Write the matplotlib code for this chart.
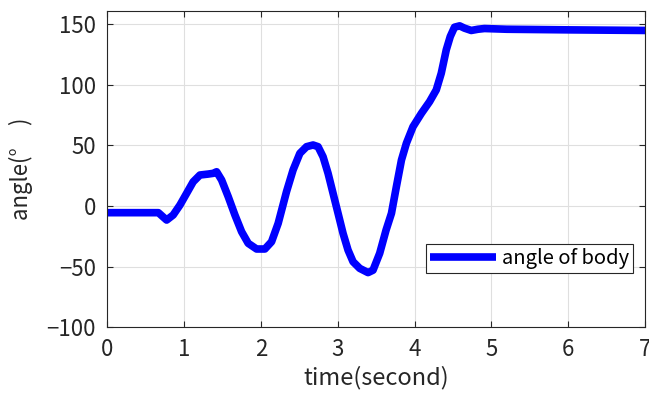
import numpy as np
import matplotlib
matplotlib.use("Agg")
import matplotlib.pyplot as plt

plt.rcParams['font.family'] = ['Noto Sans CJK JP', 'DejaVu Sans']

# time (s) and body angle (deg)
t = [0.0, 0.3, 0.56, 0.667, 0.72, 0.775, 0.86, 0.948, 1.035, 1.12, 1.208, 1.316, 1.38, 1.425,
     1.49, 1.576, 1.663, 1.75, 1.836, 1.945, 2.053, 2.14, 2.226, 2.335, 2.42, 2.508, 2.595,
     2.68, 2.745, 2.81, 2.875, 2.94, 3.005, 3.07, 3.135, 3.20, 3.287, 3.395, 3.46, 3.547,
     3.63, 3.70, 3.764, 3.83, 3.894, 3.98, 4.09, 4.196, 4.283, 4.348, 4.413, 4.465, 4.52,
     4.587, 4.65, 4.738, 4.825, 4.91, 5.2, 6.0, 7.0]
angle = [-5.5, -5.5, -5.5, -5.5, -8.5, -11.6, -7.4, 0.8, 10.5, 20.0, 25.6, 26.4, 27.0, 28.3,
         21.5, 7.7, -7.4, -21.2, -30.8, -35.5, -35.5, -29.5, -14.3, 12.0, 29.8, 43.5, 49.0,
         50.4, 49.0, 40.7, 27.0, 10.5, -6.0, -22.6, -36.4, -46.0, -51.5, -55.0, -53.0, -39.0,
         -19.8, -6.0, 16.0, 38.0, 51.8, 65.5, 76.6, 86.2, 95.9, 109.7, 129.0, 140.0, 147.7,
         148.8, 146.9, 145.0, 146.0, 146.6, 146.0, 145.5, 145.0]

fig = plt.figure(figsize=(6.49, 3.96), dpi=100)
ax = fig.add_axes([0.165, 0.174, 0.829, 0.798])

ax.plot(t, angle, color='#0000ff', lw=5.5, label='angle of body',
        solid_joinstyle='round', solid_capstyle='butt')

ax.set_xlim(0, 7)
ax.set_ylim(-100, 161)
ax.set_xticks(range(0, 8))
ax.set_yticks([-100, -50, 0, 50, 100, 150])
ax.grid(True, color='#dfdfdf', lw=0.8)
ax.set_axisbelow(True)
ax.tick_params(direction='in', length=4, width=0.8, top=True, right=True,
               labelsize=16, colors='#262626')
ax.tick_params(axis='x', pad=8)
ax.tick_params(axis='y', pad=8)
for s in ax.spines.values():
    s.set_color('#262626')
    s.set_linewidth(0.8)

ax.set_xlabel('time(second)', fontsize=17, color='#262626', labelpad=3)
ax.set_ylabel('angle(°\u3000)', fontsize=16, color='#262626', labelpad=10)

leg = ax.legend(loc='lower right', bbox_to_anchor=(0.978, 0.171), fontsize=14.5,
                handlelength=3.3, handletextpad=0.3, borderpad=0.2,
                fancybox=False, framealpha=1, borderaxespad=0)
leg.get_frame().set_edgecolor('#262626')
leg.get_frame().set_linewidth(0.8)

fig.savefig('out.png', dpi=100)
